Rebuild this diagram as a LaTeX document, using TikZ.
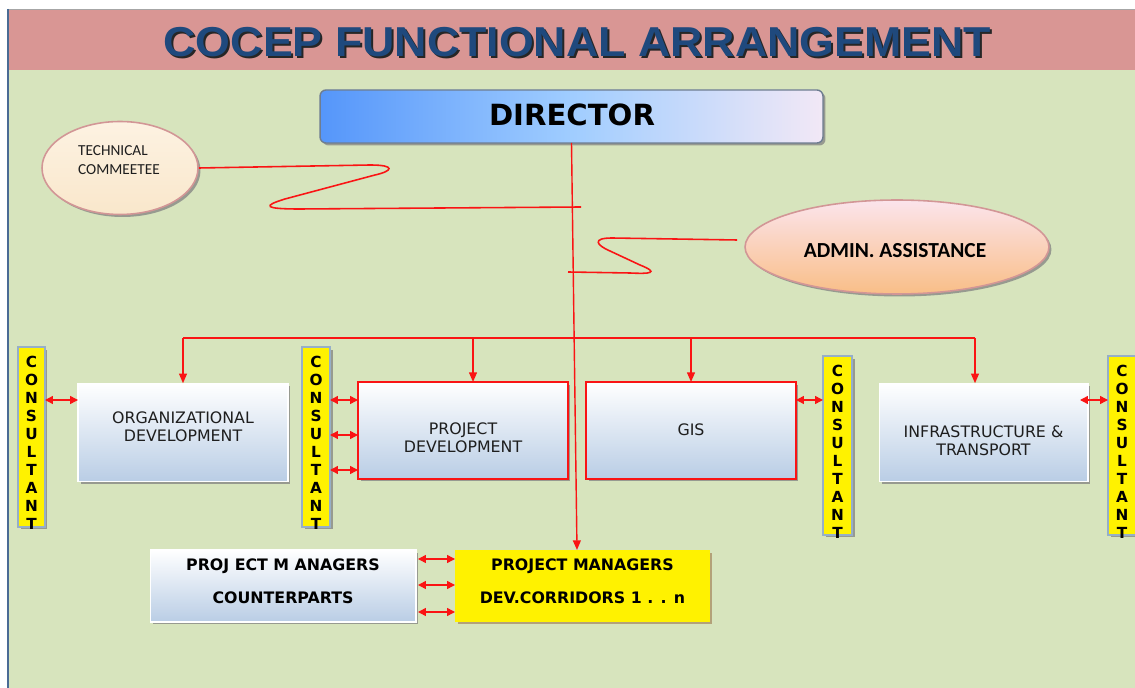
\documentclass[tikz,border=0pt]{standalone}
\usepackage{fontspec}
\setmainfont{DejaVu Sans}
\newfontfamily\titlefont{Liberation Sans}
\newfontfamily\calfont{Carlito}
\usetikzlibrary{arrows.meta,shapes.geometric,shadows,calc}
\definecolor{bggreen}{RGB}{215,228,189}
\definecolor{bandpink}{RGB}{217,150,148}
\definecolor{titleblue}{RGB}{31,73,125}
\definecolor{redc}{RGB}{250,20,20}
\definecolor{boxblue}{RGB}{185,205,229}
\definecolor{frameblue}{RGB}{74,107,148}
\definecolor{textc}{RGB}{30,30,30}
\definecolor{shadowc}{RGB}{130,130,130}
\definecolor{dirL}{RGB}{85,150,250}
\definecolor{dirM}{RGB}{160,205,255}
\definecolor{dirR}{RGB}{242,232,246}
\definecolor{dirborder}{RGB}{110,125,145}
\definecolor{ellborder}{RGB}{210,150,150}
\definecolor{creamT}{RGB}{253,242,226}
\definecolor{creamB}{RGB}{249,231,203}
\definecolor{admT}{RGB}{251,228,236}
\definecolor{admM}{RGB}{252,230,215}
\definecolor{admB}{RGB}{249,190,135}
\definecolor{barborder}{RGB}{150,175,200}
\definecolor{pmshadow}{RGB}{170,145,105}
\begin{document}
\begin{tikzpicture}[x=0.02cm,y=-0.02cm,
  redl/.style={draw=redc, line width=0.8pt},
  arr/.style={redl, -{Triangle[length=5.5pt,width=4.5pt]}},
  darr/.style={redl, {Triangle[length=4.5pt,width=4.5pt]}-{Triangle[length=4.5pt,width=4.5pt]}},
  gshadow/.style={drop shadow={shadow xshift=0.05cm, shadow yshift=-0.05cm, fill=shadowc, opacity=0.75}},
  unitbox/.style={rectangle, inner sep=0pt, outer sep=0pt, minimum width=4.2cm, minimum height=1.97cm, top color=white, bottom color=boxblue, draw=white, line width=0.6pt, gshadow},
  redunit/.style={unitbox, draw=redc, line width=0.9pt, minimum height=1.94cm},
  unittext/.style={font=\fontsize{9pt}{10.2pt}\selectfont, text=textc, align=center, inner sep=0pt},
  bar/.style={rectangle, inner sep=0pt, outer sep=0pt, fill=yellow, draw=barborder, line width=1pt, gshadow},
  cletter/.style={inner sep=0pt, font=\bfseries\fontsize{8.7pt}{9pt}\selectfont, text=black},
  dirbox/.style={rectangle, rounded corners=0.12cm, inner sep=0pt, outer sep=0pt, minimum width=10.06cm, minimum height=1.06cm, left color=dirL, right color=dirR, middle color=dirM, draw=dirborder, line width=0.8pt, gshadow},
  lowbox/.style={rectangle, inner sep=0pt, outer sep=0pt, minimum height=1.44cm},
  lowtext/.style={inner sep=0pt, font=\bfseries\fontsize{9pt}{18.7pt}\selectfont, text=black, align=center},
  titletext/.style={font=\titlefont\bfseries\fontsize{23.8pt}{26pt}\selectfont}
]
\useasboundingbox (0,0) rectangle (1135,688);
\fill[white] (0,0) rectangle (1135,688);
\fill[bggreen] (8,70) rectangle (1135,688);
\fill[bandpink] (8,9) rectangle (1135,70);
\draw[gray!70, line width=0.5pt] (8,9) -- (1135,9);
\draw[frameblue, line width=1.4pt] (8,9) -- (8,688);

% title
\node[titletext, text=black!85] (titleshadow) at (579.5,44.5) {\scalebox{1.07}[1]{COCEP FUNCTIONAL ARRANGEMENT}};
\node[titletext, text=titleblue] (title) at (577.5,42.5) {\scalebox{1.07}[1]{COCEP FUNCTIONAL ARRANGEMENT}};

% director
\node[dirbox] (director) at (571.5,116.5) {};
\node[inner sep=0pt, font=\bfseries\fontsize{16.6pt}{18pt}\selectfont, text=black] (dirtext) at (572,115) {DIRECTOR};

% technical committee
\node[ellipse, inner sep=0pt, minimum width=3.12cm, minimum height=1.86cm, top color=creamT, bottom color=creamB, draw=ellborder, line width=0.9pt, gshadow] (tc) at (120,168) {};
\node[font=\calfont\fontsize{8.7pt}{10.8pt}\selectfont, align=left, text=textc, inner sep=0pt] (tctext) at (119,160) {TECHNICAL\\COMMEETEE};

% admin
\node[ellipse, inner sep=0pt, minimum width=6.08cm, minimum height=1.88cm, top color=admT, middle color=admM, bottom color=admB, draw=ellborder, line width=0.9pt, gshadow] (admin) at (897,247) {};
\node[font=\calfont\bfseries\fontsize{12.2pt}{14pt}\selectfont, text=black, inner sep=0pt] (admintext) at (895,251) {ADMIN. ASSISTANCE};

% wiggly connectors
\coordinate (w1end) at (581,207);
\draw[redl, line width=0.9pt] (tc.east) -- (370,165) .. controls (396,165) and (393,171) .. (375,175) -- (285,199) .. controls (262,206) and (264,209) .. (300,209) -- (w1end);
\coordinate (w2start) at (737,240);
\coordinate (w2end) at (568,272);
\draw[redl, line width=0.9pt] (w2start) -- (612,238) .. controls (592,238) and (596,245) .. (610,251) -- (640,265) .. controls (660,273) and (650,274) .. (630,273) -- (w2end);

% consultant bars
\node[bar, minimum width=0.54cm, minimum height=3.6cm] (c1) at (31.5,437) {};
\node[bar, minimum width=0.56cm, minimum height=3.6cm] (c2) at (316,437) {};
\node[bar, minimum width=0.58cm, minimum height=3.58cm] (c3) at (837.5,445.5) {};
\node[bar, minimum width=0.58cm, minimum height=3.58cm] (c4) at (1122.5,445.5) {};
\foreach \l [count=\i] in {C,O,N,S,U,L,T,A,N,T} {
  \node[cletter] (c1l\i) at (31.5,{362+18*(\i-1)}) {\l};
  \node[cletter] (c2l\i) at (316,{362+18*(\i-1)}) {\l};
  \node[cletter] (c3l\i) at (837.5,{371+18*(\i-1)}) {\l};
  \node[cletter] (c4l\i) at (1122,{371+18*(\i-1)}) {\l};
}

% unit boxes
\node[unitbox] (org) at (183,432.5) {};
\node[unittext] (orgtext) at (183,427) {ORGANIZATIONAL\\DEVELOPMENT};
\node[redunit] (pd) at (463,430.5) {};
\node[unittext] (pdtext) at (463,438) {PROJECT\\DEVELOPMENT};
\node[redunit] (gis) at (691,430.5) {};
\node[unittext] (gistext) at (691,430) {GIS};
\node[unitbox, minimum width=4.18cm] (infra) at (983.5,432.5) {};
\node[unittext] (infratext) at (983.5,440.5) {INFRASTRUCTURE \&\\TRANSPORT};

% bottom boxes
\node[lowbox, minimum width=5.32cm, top color=white, bottom color=boxblue, draw=white, line width=0.6pt, gshadow] (pmc) at (283,586) {};
\node[lowtext] (pmctext) at (283,581.5) {PROJ ECT M ANAGERS\\COUNTERPARTS};
\node[lowbox, minimum width=5.1cm, fill=yellow, drop shadow={shadow xshift=0.05cm, shadow yshift=-0.05cm, fill=pmshadow, opacity=0.8}] (pm) at (582.5,586) {};
\node[lowtext] (pmtext) at (582.5,581.5) {PROJECT MANAGERS\\DEV.CORRIDORS 1 . . n};

% bus and arrows
\coordinate (busL) at (183,338);
\coordinate (busR) at (975,338);
\coordinate (b2) at (473,338);
\draw[redl] (busL) -- (busR);
\draw[arr] (busL) -- (org.north);
\draw[arr] (b2) -- (b2 |- pd.north);
\draw[arr] (gis.north |- busL) -- (gis.north);
\draw[arr] (busR) -- (busR |- infra.north);
\coordinate (pmtop) at (577,550);
\draw[arr] (director.south) -- (pmtop);

% double arrows
\coordinate (r400) at (0,400);
\coordinate (r435) at (0,435);
\coordinate (r470) at (0,470);
\coordinate (r559) at (0,559);
\coordinate (r585) at (0,585);
\coordinate (r612) at (0,612);
\draw[darr] (c1.east |- r400) -- (org.west |- r400);
\draw[darr] (c2.east |- r400) -- (pd.west |- r400);
\draw[darr] (c2.east |- r435) -- (pd.west |- r435);
\draw[darr] (c2.east |- r470) -- (pd.west |- r470);
\draw[darr] (gis.east |- r400) -- (c3.west |- r400);
\draw[darr] ($(infra.east |- r400)+(-8,0)$) -- (c4.west |- r400);
\draw[darr] ($(pmc.east |- r559)+(2,0)$) -- (pm.west |- r559);
\draw[darr] ($(pmc.east |- r585)+(2,0)$) -- (pm.west |- r585);
\draw[darr] ($(pmc.east |- r612)+(2,0)$) -- (pm.west |- r612);
\end{tikzpicture}
\end{document}
